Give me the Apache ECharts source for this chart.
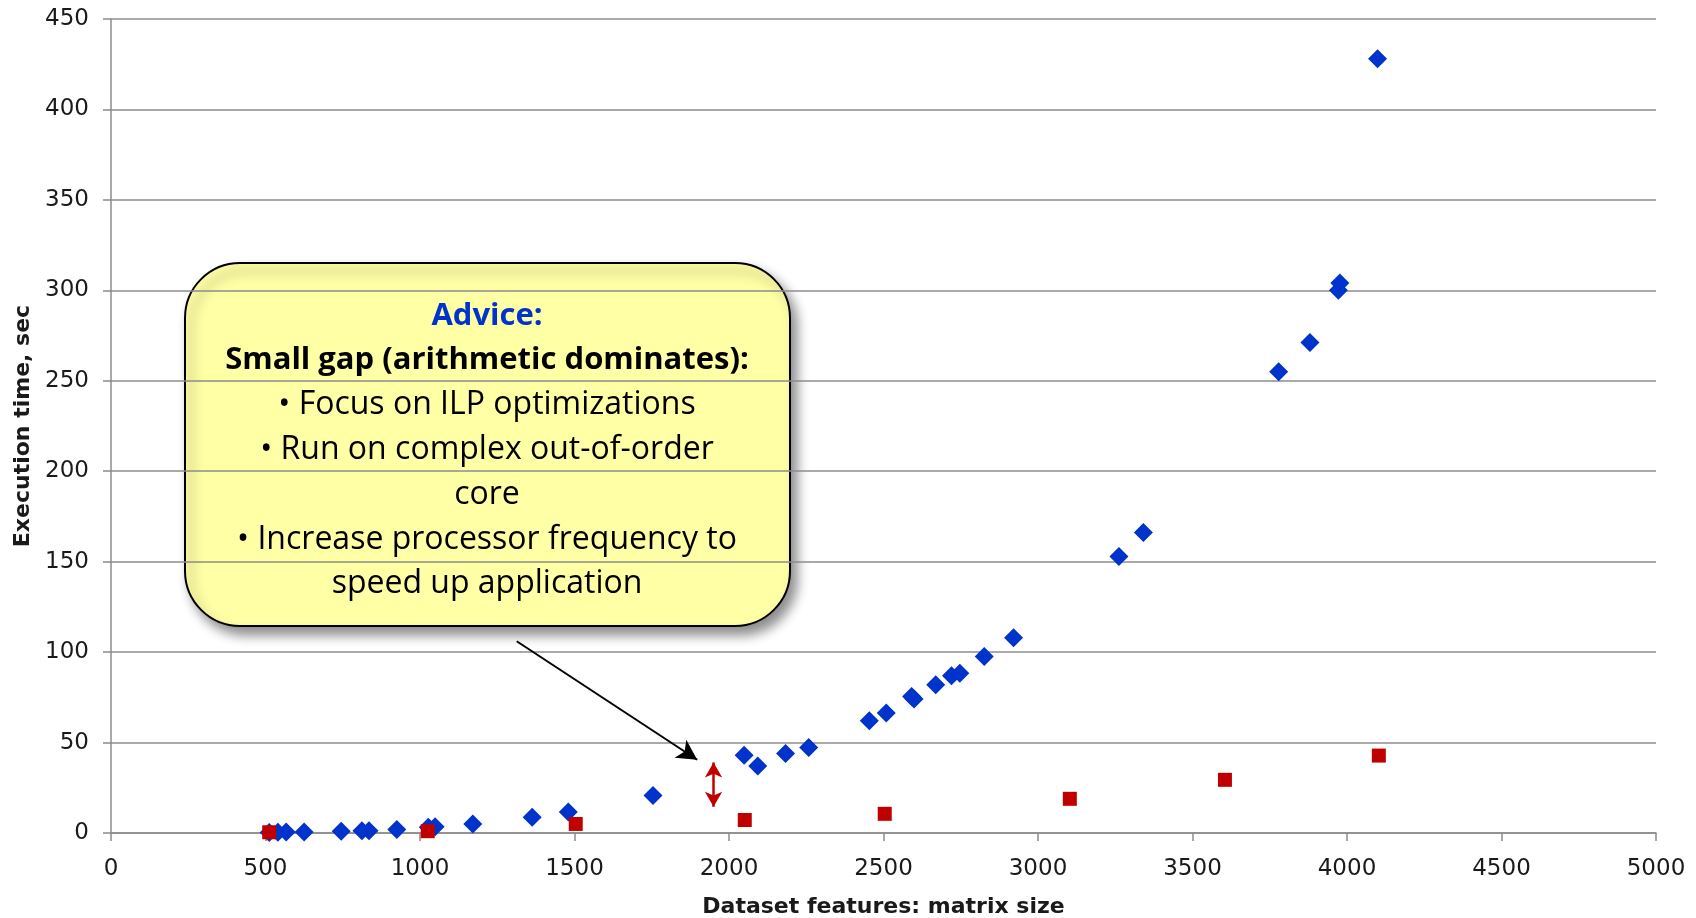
<!DOCTYPE html>
<html>
<head>
<meta charset="utf-8">
<title>Execution time vs matrix size</title>
<script src="https://cdn.jsdelivr.net/npm/echarts@6/dist/echarts.min.js"></script>
<style>
  html, body { margin: 0; padding: 0; background: #ffffff; }
  #chart { width: 1696px; height: 918px; }
</style>
</head>
<body>
<div id="chart"></div>
<script>
// Measured runs: matrix size vs execution time (seconds)
const matrixSizeFull = [512, 540, 567, 625, 745, 812, 835, 925, 1027, 1049, 1171, 1363, 1480, 1754,
  2049, 2093, 2183, 2258, 2454, 2509, 2591, 2599, 2669, 2720, 2747, 2826, 2921,
  3262, 3341, 3779, 3880, 3972, 3977, 4099];
const timeFull = [0.3, 0.4, 0.5, 0.6, 1.0, 1.2, 1.3, 2.0, 3.2, 3.5, 5.0, 8.7, 11.6, 20.8,
  43, 37, 44, 47.2, 62, 66.3, 75.4, 74.1, 81.9, 87, 88.3, 97.6, 108,
  152.8, 166.1, 255, 271.1, 300, 304.1, 428];

// Arithmetic-only runs
const matrixSizeArith = [512, 1025, 1504, 2051, 2504, 3103, 3605, 4103];
const timeArith = [0.4, 1.0, 5.0, 7.2, 10.6, 18.9, 29.4, 42.8];

// Axis ranges
const xRange = { min: 0, max: 5000, step: 500 };
const yRange = { min: 0, max: 450, step: 50 };

// Gap marker and pointer arrow (data coordinates)
const gapMarker = [[1950, 14.5], [1950, 39]];
const pointerArrow = [[1313, 106], [1897, 40.5]];

const adviceLines = [
  '{head|Advice:}',
  '{bold|Small gap (arithmetic dominates):}',
  '{body|• Focus on ILP optimizations}',
  '{body|• Run on complex out-of-order}',
  '{body|core}',
  '{body|• Increase processor frequency to}',
  '{body|speed up application}'
];

const zip = (xs, ys) => xs.map((x, i) => [x, ys[i]]);

const chart = echarts.init(document.getElementById('chart'), null, { renderer: 'canvas' });

const axisFont = 'DejaVu Sans, Liberation Sans, Arial, sans-serif';
const boxFont = 'Open Sans, Noto Sans, Lato, sans-serif';
const plain = v => String(v);

chart.setOption({
  animation: false,
  backgroundColor: '#ffffff',
  grid: { left: 111, right: 40, top: 19, bottom: 85, outerBoundsMode: 'none', containLabel: false },
  xAxis: {
    type: 'value',
    min: xRange.min, max: xRange.max, interval: xRange.step,
    name: 'Dataset features: matrix size',
    nameLocation: 'middle',
    nameGap: 63,
    nameTextStyle: { fontFamily: axisFont, fontWeight: 'bold', fontSize: 22, color: '#1a1a1a' },
    axisLine: { show: true, lineStyle: { color: '#8c8c8c', width: 1.5 } },
    axisTick: { show: true, inside: false, length: 8, lineStyle: { color: '#8c8c8c', width: 1.5 } },
    axisLabel: { margin: 25, formatter: plain, fontFamily: axisFont, fontSize: 23, color: '#1a1a1a' },
    splitLine: { show: false }
  },
  yAxis: {
    type: 'value',
    min: yRange.min, max: yRange.max, interval: yRange.step,
    name: 'Execution time, sec',
    nameLocation: 'middle',
    nameGap: 77,
    nameTextStyle: { fontFamily: axisFont, fontWeight: 'bold', fontSize: 22, color: '#1a1a1a' },
    axisLine: { show: true, lineStyle: { color: '#8c8c8c', width: 1.5 } },
    axisTick: { show: true, inside: false, length: 8, lineStyle: { color: '#8c8c8c', width: 1.5 } },
    axisLabel: { margin: 22, formatter: plain, fontFamily: axisFont, fontSize: 23, color: '#1a1a1a' },
    splitLine: { show: true, lineStyle: { color: '#8c8c8c', width: 1.5 } }
  },
  series: [
    {
      name: 'Full application',
      type: 'scatter',
      symbol: 'diamond',
      symbolSize: 19,
      itemStyle: { color: '#0033cc', opacity: 1 },
      data: zip(matrixSizeFull, timeFull),
      z: 3,
      markLine: {
        silent: true,
        animation: false,
        symbol: ['none', 'arrow'],
        symbolSize: [16, 20],
        label: { show: false },
        lineStyle: { color: '#000000', width: 2, type: 'solid', opacity: 1 },
        data: [[{ coord: pointerArrow[0] }, { coord: pointerArrow[1] }]]
      }
    },
    {
      name: 'Arithmetic only',
      type: 'scatter',
      symbol: 'rect',
      symbolSize: 14,
      itemStyle: { color: '#c00000', opacity: 1 },
      data: zip(matrixSizeArith, timeArith),
      z: 4,
      markLine: {
        silent: true,
        animation: false,
        symbol: ['arrow', 'arrow'],
        symbolSize: [13, 15],
        label: { show: false },
        lineStyle: { color: '#c00000', width: 2.5, type: 'solid', opacity: 1 },
        data: [[{ coord: gapMarker[0] }, { coord: gapMarker[1] }]]
      }
    }
  ],
  graphic: [
    {
      type: 'group',
      z: 100,
      children: [
        {
          type: 'rect',
          shape: { x: 185, y: 263, width: 605, height: 363, r: 55 },
          style: {
            fill: '#ffffa6',
            stroke: '#000000',
            lineWidth: 2,
            shadowBlur: 12,
            shadowOffsetX: 6,
            shadowOffsetY: 8,
            shadowColor: 'rgba(0,0,0,0.45)'
          }
        },
        {
          type: 'text',
          x: 487,
          y: 450,
          style: {
            text: adviceLines.join('\n'),
            align: 'center',
            verticalAlign: 'middle',
            rich: {
              head: { fontFamily: boxFont, fontWeight: 'bold', fontSize: 31, fill: '#0033cc', lineHeight: 44.7, align: 'center' },
              bold: { fontFamily: boxFont, fontWeight: 'bold', fontSize: 31, fill: '#000000', lineHeight: 44.7, align: 'center' },
              body: { fontFamily: boxFont, fontSize: 32, fill: '#000000', lineHeight: 44.7, align: 'center' }
            }
          }
        }
      ]
    }
  ]
});
</script>
</body>
</html>
